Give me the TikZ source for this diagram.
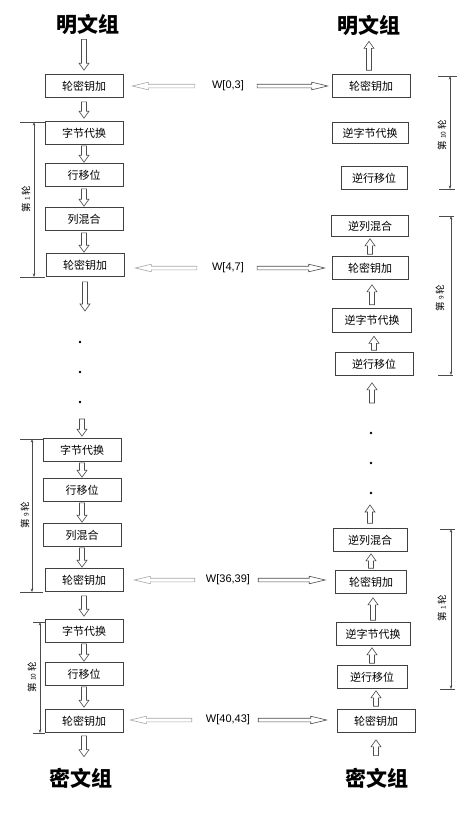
\documentclass[tikz,border=0pt]{standalone}
\usepackage{fontspec}
\setmainfont{Noto Sans CJK SC}
\newfontfamily\latinfont{Liberation Sans}
\usetikzlibrary{calc,arrows.meta}
\tikzset{
  box/.style={draw=black!75, line width=0.6pt, minimum width=78pt, minimum height=23pt,
    inner sep=0pt, font=\fontsize{11}{11}\selectfont},
  ttl/.style={font=\fontsize{21}{21}\selectfont\bfseries, inner sep=0pt},
  klabel/.style={font=\latinfont\fontsize{11}{11}\selectfont, inner sep=0pt},
  rlabel/.style={rotate=90, font=\fontsize{9.5}{9.5}\selectfont, inner sep=0pt},
  flow/.style={draw=black!70, line width=0.6pt, fill=white, line join=miter},
  keyL/.style={draw=black!35, line width=0.6pt, fill=white},
  keyR/.style={draw=black!70, line width=0.6pt, fill=white},
  dim/.style={draw=black!70, line width=0.5pt},
  dimarr/.style={dim, {Stealth[length=3.5pt,width=2.6pt]}-{Stealth[length=3.5pt,width=2.6pt]}},
  dot/.style={fill=black},
}
% hollow block arrows: #1 = start, #2 = tip
\newcommand\arrD[2]{\draw[flow] let \p1=(#1),\p2=(#2) in
  (\x1-2.5pt,\y1) -- (\x1-2.5pt,\y2+7pt) -- (\x1-5pt,\y2+7pt) -- (\x1,\y2) --
  (\x1+5pt,\y2+7pt) -- (\x1+2.5pt,\y2+7pt) -- (\x1+2.5pt,\y1) -- cycle;}
\newcommand\arrU[2]{\draw[flow] let \p1=(#1),\p2=(#2) in
  (\x1-2.5pt,\y1) -- (\x1-2.5pt,\y2-7pt) -- (\x1-5pt,\y2-7pt) -- (\x1,\y2) --
  (\x1+5pt,\y2-7pt) -- (\x1+2.5pt,\y2-7pt) -- (\x1+2.5pt,\y1) -- cycle;}
\newcommand\arrL[3]{\draw[#1] let \p1=(#2),\p2=(#3) in
  (\x1,\y1-1.8pt) -- (\x2+16pt,\y1-1.8pt) -- (\x2+16pt,\y1-3.8pt) -- (\x2,\y1) --
  (\x2+16pt,\y1+3.8pt) -- (\x2+16pt,\y1+1.8pt) -- (\x1,\y1+1.8pt) -- cycle;}
\newcommand\arrR[3]{\draw[#1] let \p1=(#2),\p2=(#3) in
  (\x1,\y1-1.8pt) -- (\x2-16pt,\y1-1.8pt) -- (\x2-16pt,\y1-3.8pt) -- (\x2,\y1) --
  (\x2-16pt,\y1+3.8pt) -- (\x2-16pt,\y1+1.8pt) -- (\x1,\y1+1.8pt) -- cycle;}
\newcommand\rnum[1]{{\fontsize{6.5}{6.5}\selectfont #1}}
\begin{document}
\begin{tikzpicture}[x=1pt,y=-1pt]
\useasboundingbox (0,0) rectangle (473,814);
% titles
\node[ttl] (TL) at (88,24) {明文组};
\node[ttl] (TR) at (369,25) {明文组};
\node[ttl] (BL) at (81,778) {密文组};
\node[ttl] (BR) at (377,778) {密文组};
% left column
\node[box] (L0)   at (84,86)  {轮密钥加};
\node[box] (L1a)  at (84,133) {字节代换};
\node[box] (L1b)  at (84,175) {行移位};
\node[box] (L1c)  at (84,219) {列混合};
\node[box] (L1d)  at (85,265) {轮密钥加};
\node[box] (L9a)  at (82,450) {字节代换};
\node[box] (L9b)  at (82,490) {行移位};
\node[box] (L9c)  at (82,535) {列混合};
\node[box] (L9d)  at (84,580) {轮密钥加};
\node[box] (L10a) at (84,631) {字节代换};
\node[box] (L10b) at (84,674) {行移位};
\node[box] (L10c) at (84,721) {轮密钥加};
% right column
\node[box] (R0)   at (371,86)  {轮密钥加};
\node[box, minimum width=76pt, minimum height=21pt] (R10a) at (370,133) {逆字节代换};
\node[box, minimum width=66pt] (R10b) at (374,178) {逆行移位};
\node[box, minimum width=77pt, minimum height=21pt] (R9a) at (370,226) {逆列混合};
\node[box, minimum width=76pt] (R9b) at (370,268) {轮密钥加};
\node[box, minimum width=79pt, minimum height=24pt] (R9c) at (372,320) {逆字节代换};
\node[box] (R9d) at (374,364) {逆行移位};
\node[box, minimum width=74pt] (R1a) at (370,540) {逆列混合};
\node[box, minimum width=71pt] (R1b) at (371,582) {轮密钥加};
\node[box, minimum width=74pt] (R1c) at (373,634) {逆字节代换};
\node[box, minimum width=70pt] (R1d) at (372,677) {逆行移位};
\node[box] (R1e) at (376,721) {轮密钥加};
% key labels
\node[klabel] (W03)  at (228,86)  {W[0,3]};
\node[klabel] (W47)  at (228,268) {W[4,7]};
\node[klabel] (W3639) at (228,580) {W[36,39]};
\node[klabel] (W4043) at (228,720) {W[40,43]};
% free ends
\coordinate (c1) at (85,311);
\coordinate (c2) at (82,419);
\coordinate (c3) at (372,403);
\coordinate (c4) at (370,505);
% left flow arrows
\arrD{$(TL.south -| L0.north)+(0,5)$}{$(L0.north)+(0,-4)$}
\arrD{$(L0.south)+(0,4)$}{$(L1a.north)+(0,-3)$}
\arrD{$(L1a.south)+(0,1)$}{$(L1b.north)+(0,-1)$}
\arrD{$(L1b.south)+(0,2)$}{$(L1c.north)+(0,-1)$}
\arrD{$(L1c.south)+(0,2)$}{$(L1d.north)+(0,-1)$}
\arrD{$(L1d.south)+(0,5)$}{c1}
\arrD{c2}{$(L9a.north)+(0,-2)$}
\arrD{$(L9a.south)+(0,1)$}{$(L9b.north)+(0,-1)$}
\arrD{$(L9b.south)+(0,1)$}{$(L9c.north)+(0,-1)$}
\arrD{$(L9c.south)+(0,1)$}{$(L9d.north)+(0,-1)$}
\arrD{$(L9d.south)+(0,4)$}{$(L10a.north)+(0,-3)$}
\arrD{$(L10a.south)+(0,1)$}{$(L10b.north)+(0,-1)$}
\arrD{$(L10b.south)+(0,1)$}{$(L10c.north)+(0,-2)$}
\arrD{$(L10c.south)+(0,3)$}{$(BL.north -| L10c.south)+(0,-11)$}
% dots
\fill[dot] (80,342) circle (1.3);
\fill[dot] (80,372) circle (1.3);
\fill[dot] (80,402) circle (1.3);
\fill[dot] (371,433) circle (1.3);
\fill[dot] (371,463) circle (1.3);
\fill[dot] (371,493) circle (1.3);
% right flow arrows
\arrU{$(R0.north -| TR.south)+(0,-4)$}{$(TR.south)+(0,6)$}
\arrU{$(R9b.north)+(0,-2)$}{$(R9a.south)+(0,2)$}
\arrU{$(R9c.north)+(0,-3)$}{$(R9b.south)+(0,5)$}
\arrU{$(R9d.north)+(0,-2)$}{$(R9c.south)+(0,4)$}
\arrU{c3}{$(R9d.south)+(0,7)$}
\arrU{$(R1a.north)+(0,-5)$}{c4}
\arrU{$(R1b.north)+(0,-2)$}{$(R1a.south)+(0,2)$}
\arrU{$(R1c.north)+(0,-2)$}{$(R1b.south)+(0,4)$}
\arrU{$(R1d.north)+(0,-2)$}{$(R1c.south)+(0,2)$}
\arrU{$(R1e.north)+(0,-3)$}{$(R1d.south)+(0,2)$}
\arrU{$(BR.north -| R1e.south)+(0,-12)$}{$(R1e.south)+(0,7)$}
% key arrows
\arrL{keyL}{$(W03.west)+(-17,0)$}{$(L0.east)+(9,0)$}
\arrR{keyR}{$(W03.east)+(13,0)$}{$(R0.west)+(-4,0)$}
\arrL{keyL}{$(W47.west)+(-15,0)$}{$(L1d.east)+(11,0)$}
\arrR{keyR}{$(W47.east)+(13,0)$}{$(R9b.west)+(-7,0)$}
\arrL{keyL}{$(W3639.west)+(-11,0)$}{$(L9d.east)+(11,0)$}
\arrR{keyR}{$(W3639.east)+(8,0)$}{$(R1b.west)+(-10,0)$}
\arrL{keyL}{$(W4043.west)+(-14,0)$}{$(L10c.east)+(7,0)$}
\arrR{keyR}{$(W4043.east)+(8,0)$}{$(R1e.west)+(-10,0)$}
% round brackets, left
\draw[dim] (20,122) -- (45,122); \draw[dim] (20,277) -- (45,277);
\draw[dimarr] (34,122) -- (34,277);
\node[rlabel] (RL1) at (26,199) {第 \rnum{1} 轮};
\draw[dim] (20,439) -- (43,439); \draw[dim] (20,592) -- (43,592);
\draw[dimarr] (32,439) -- (32,592);
\node[rlabel] (RL9) at (25,515) {第 \rnum{9} 轮};
\draw[dim] (33,622) -- (45,622); \draw[dim] (33,733) -- (45,733);
\draw[dimarr] (40,622) -- (40,733);
\node[rlabel] (RL10) at (32,677) {第 \rnum{10} 轮};
% round brackets, right
\draw[dim] (438,76) -- (457,76); \draw[dim] (439,189) -- (455,189);
\draw[dimarr] (450,76) -- (450,189);
\node[rlabel] (RR10) at (442,135) {第 \rnum{10} 轮};
\draw[dim] (439,216) -- (454,216); \draw[dim] (438,375) -- (453,375);
\draw[dimarr] (451,216) -- (451,375);
\node[rlabel] (RR9) at (440,298) {第 \rnum{9} 轮};
\draw[dim] (440,529) -- (455,529); \draw[dim] (440,689) -- (455,689);
\draw[dimarr] (451,529) -- (451,689);
\node[rlabel] (RR1) at (442,608) {第 \rnum{1} 轮};
\end{tikzpicture}
\end{document}
